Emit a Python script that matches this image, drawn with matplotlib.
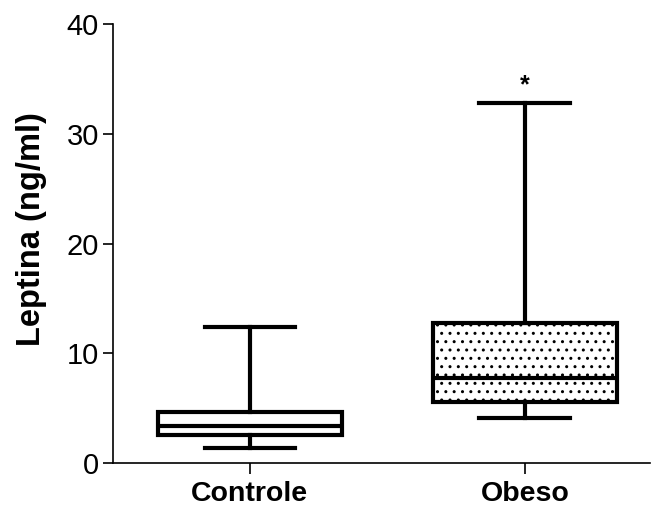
import matplotlib
matplotlib.use('Agg')
import matplotlib.pyplot as plt

plt.rcParams['font.family'] = ['Liberation Sans', 'DejaVu Sans']
plt.rcParams['hatch.linewidth'] = 1.0

groups = ['Controle', 'Obeso']
whislo = [1.4, 4.13]
q1 = [2.55, 5.6]
med = [3.37, 7.77]
q3 = [4.67, 12.78]
whishi = [12.4, 32.8]
yticks = [0, 10, 20, 30, 40]

stats = []
for i in range(len(groups)):
    stats.append({'label': groups[i], 'whislo': whislo[i], 'q1': q1[i],
                  'med': med[i], 'q3': q3[i], 'whishi': whishi[i], 'fliers': []})

fig = plt.figure(figsize=(6.54, 5.14), dpi=100)
ax = fig.add_axes([0.1728, 0.0992, 0.821, 0.854])

lw = 3.0
bp = ax.bxp(stats, positions=[1, 2], widths=0.67, capwidths=0.33,
            showfliers=False, patch_artist=True,
            boxprops=dict(linewidth=lw, edgecolor='black', facecolor='white'),
            medianprops=dict(linewidth=lw, color='black'),
            whiskerprops=dict(linewidth=lw, color='black'),
            capprops=dict(linewidth=lw, color='black'))
bp['boxes'][1].set_hatch('..')

ax.text(2, whishi[1] + 0.5, '*', ha='center', va='bottom', fontsize=18, fontweight='bold')

ax.set_xlim(0.502, 2.455)
ax.set_ylim(0, 40)
ax.set_yticks(yticks)
ax.set_xticks([1, 2])
ax.set_xticklabels(groups, fontsize=20.5, fontweight='bold')
ax.tick_params(axis='y', labelsize=21, length=7, width=1.2, direction='out', pad=3)
ax.tick_params(axis='x', length=8, width=1.2, direction='out', pad=5)
ax.set_ylabel('Leptina (ng/ml)', fontsize=23.5, fontweight='bold')
ax.yaxis.set_label_coords(-0.123, 0.533)
for s in ['top', 'right']:
    ax.spines[s].set_visible(False)
for s in ['left', 'bottom']:
    ax.spines[s].set_linewidth(1.2)

fig.savefig('out.png', dpi=100)
